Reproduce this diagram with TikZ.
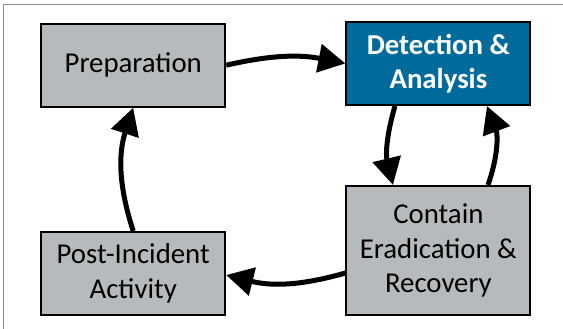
\documentclass[tikz,border=0pt]{standalone}
\usepackage{fontspec}
\setmainfont{Carlito}
\usetikzlibrary{arrows.meta}
\definecolor{boxgray}{RGB}{182,186,188}
\definecolor{boxblue}{RGB}{0,106,155}
\definecolor{framegray}{RGB}{140,140,140}
\begin{document}
\begin{tikzpicture}[x=1pt,y=-1pt,
  box/.style={draw=black, line width=2pt, fill=boxgray, minimum width=184pt,
    minimum height=83pt, align=center, inner sep=0pt,
    font=\fontsize{28.8pt}{34.5pt}\selectfont},
  flow/.style={line width=5pt, -{Triangle[length=27pt,width=28pt]}}]
\useasboundingbox (0,0) rectangle (563,329);
\draw[framegray, line width=1pt] (3.6,329) -- (3.6,4.7) -- (563,4.7);

\node[box] (prep) at (133.2,65.2) {Preparation};
\node[box, fill=boxblue, text=white, font=\fontsize{28.8pt}{34.5pt}\selectfont\bfseries] (det) at (438.4,63.5) {Detection \&\\Analysis};
\node[box, minimum height=129pt] (cont) at (438.4,250.5) {Contain\\Eradication \&\\Recovery};
\node[box] (post) at (133.2,273.5) {Post-Incident\\Activity};

\draw[flow] (prep.east) to[bend left=12] (det.west);
\draw[flow] ([xshift=-43.4pt]det.south) to[bend right=15] ([xshift=-45.4pt]cont.north);
\draw[flow] ([xshift=49.6pt]cont.north) to[bend right=20] ([xshift=48.6pt]det.south);
\draw[flow] ([yshift=-22.5pt]cont.west) to[bend left=15] ([yshift=-1.5pt]post.east);
\draw[flow] (post.north) to[bend left=18] (prep.south);
\end{tikzpicture}
\end{document}
